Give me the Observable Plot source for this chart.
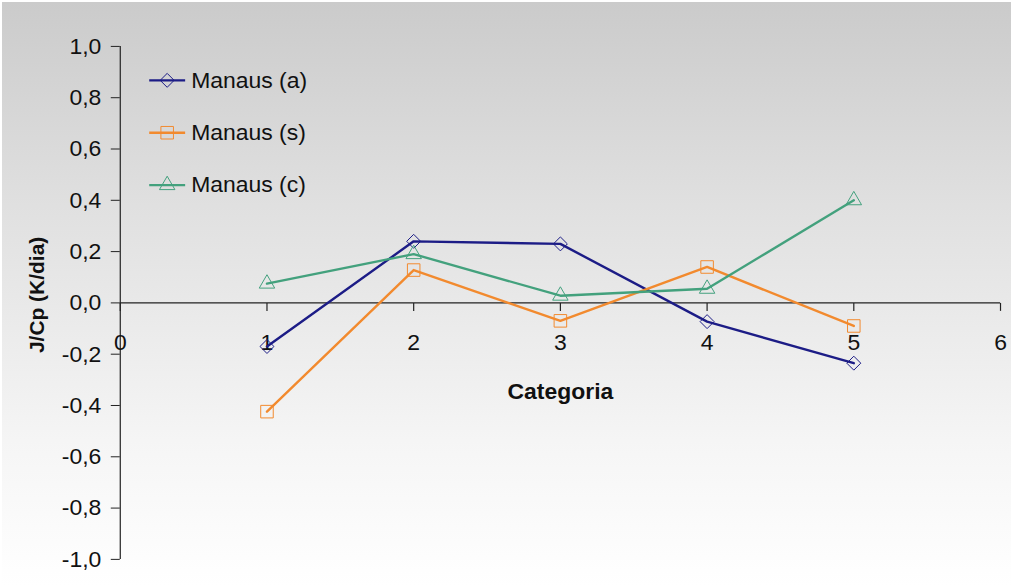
<!DOCTYPE html>
<html>
<head>
<meta charset="utf-8">
<script src="https://cdn.jsdelivr.net/npm/d3@7"></script>
<script src="https://cdn.jsdelivr.net/npm/@observablehq/plot@0.6"></script>
<style>
  html, body { margin: 0; padding: 0; }
  body { width: 1011px; height: 586px; overflow: hidden; background: #ffffff; }
  #chart { position: absolute; left: 2px; top: 2px; width: 1009px; height: 584px;
    background: linear-gradient(to bottom, #cbcbcb 0%, #e0e0e0 35%, #f5f5f5 75%, #ffffff 100%); }
  #chart svg { position: absolute; left: -2px; top: -2px; background: transparent; }
</style>
</head>
<body>
<div id="chart"></div>
<script>
// ---- data ----
const categories = [1, 2, 3, 4, 5];
const seriesNames = ["Manaus (a)", "Manaus (s)", "Manaus (c)"];
const manausA = [-0.17, 0.24, 0.23, -0.073, -0.235];
const manausS = [-0.424, 0.128, -0.07, 0.14, -0.09];
const manausC = [0.075, 0.19, 0.028, 0.055, 0.40];
const yTicks = [-1, -0.8, -0.6, -0.4, -0.2, 0, 0.2, 0.4, 0.6, 0.8, 1];
const xTicks = [0, 1, 2, 3, 4, 5, 6];
const colors = ["#1c1c86", "#f28a2e", "#43a17d"];
const symbols = ["diamond2", "square2", "triangle2"];
const symbolR = [6.3, 8.0, 7.4];

const seriesValues = [manausA, manausS, manausC];
const rows = [];
seriesNames.forEach((s, i) => categories.forEach((c, j) => rows.push({series: s, x: c, y: seriesValues[i][j]})));

const fmt = d => d3.format(".1f")(d).replace(".", ",").replace("−", "-");
const font = "Arial, 'Liberation Sans', sans-serif";

// custom symbols for tick marks & legend line
const tickDown = { draw(ctx) { ctx.moveTo(0, 0); ctx.lineTo(0, 8); } };
const legendLine = { draw(ctx) { ctx.moveTo(-18, 0); ctx.lineTo(18, 0); } };

const marks = [
  Plot.ruleY([0], {x1: 0, x2: 6, stroke: "#222", strokeWidth: 1.2}),
  Plot.ruleX([0], {y1: -1, y2: 1, stroke: "#222", strokeWidth: 1.2}),
  Plot.axisY({ticks: yTicks, tickFormat: fmt, tickSize: 9, tickPadding: 10, label: null,
    fontSize: 23, stroke: "#222", fill: "#111"}),
  Plot.dot(xTicks, {x: d => d, y: 0, symbol: tickDown, stroke: "#222", strokeWidth: 1.2, r: 4}),
  Plot.text(xTicks, {x: d => d, y: 0, text: d => String(d), dy: 40, fontSize: 23, fill: "#111"}),
  Plot.text(["Categoria"], {x: 3, y: 0, dy: 89, fontSize: 23, fontWeight: "bold", fill: "#111"}),
  Plot.text(["J/Cp (K/dia)"], {frameAnchor: "left", textAnchor: "middle", lineAnchor: "middle", dx: -83, dy: -8, rotate: -90, fontSize: 21, fontWeight: "bold", fill: "#111"})
];

seriesNames.forEach((s, i) => {
  const data = rows.filter(r => r.series === s);
  marks.push(Plot.line(data, {x: "x", y: "y", stroke: colors[i], strokeWidth: 2.4}));
  marks.push(Plot.dot(data, {x: "x", y: "y", symbol: symbols[i], r: symbolR[i], stroke: colors[i], strokeWidth: 1, fill: "none"}));
  // legend
  const ly = 34 + 52.5 * i;
  marks.push(Plot.dot([s], {frameAnchor: "top-left", dx: 47, dy: ly, symbol: legendLine, stroke: colors[i], strokeWidth: 2.4, r: 4}));
  marks.push(Plot.dot([s], {frameAnchor: "top-left", dx: 47, dy: ly, symbol: symbols[i], r: symbolR[i], stroke: colors[i], strokeWidth: 1, fill: "none"}));
  marks.push(Plot.text([s], {frameAnchor: "top-left", dx: 71, dy: ly, text: d => d, textAnchor: "start", lineAnchor: "middle", fontSize: 23, fill: "#111"}));
});

const chart = Plot.plot({
  width: 1011,
  height: 586,
  marginLeft: 120,
  marginRight: 9,
  marginTop: 46,
  marginBottom: 26,
  style: {background: "transparent", fontFamily: font, fontSize: "18px", overflow: "visible"},
  x: {domain: [0, 6], axis: null},
  y: {domain: [-1, 1], axis: null},
  marks
});
document.getElementById("chart").appendChild(chart);
</script>
</body>
</html>
